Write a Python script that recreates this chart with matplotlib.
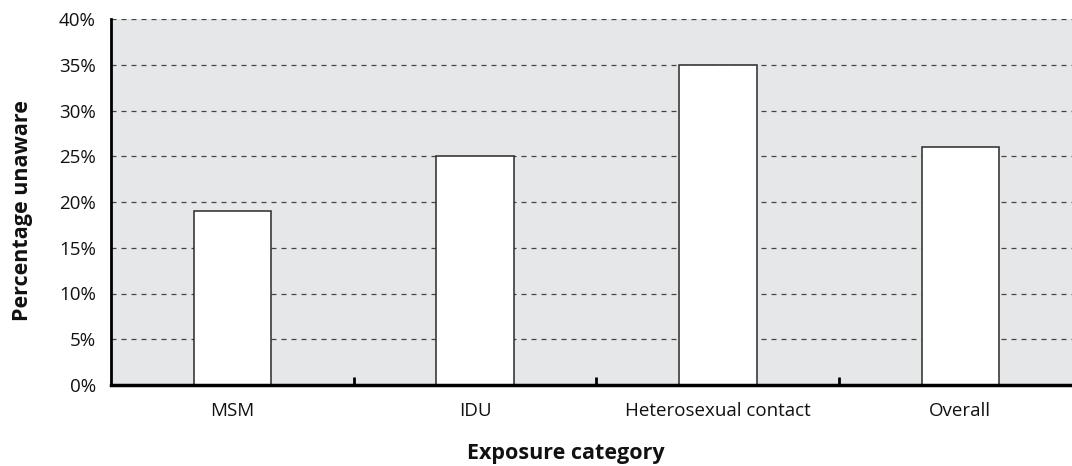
import matplotlib
matplotlib.use("Agg")
import matplotlib.pyplot as plt
from matplotlib.ticker import FixedLocator, PercentFormatter

categories = ["MSM", "IDU", "Heterosexual contact", "Overall"]
percent_unaware = [19, 25, 35, 26]
y_ticks = [0, 5, 10, 15, 20, 25, 30, 35, 40]

plt.rcParams['font.family'] = ['Open Sans', 'DejaVu Sans']

fig = plt.figure(figsize=(10.72, 4.66), dpi=100)
ax = fig.add_axes([111/1072, 1 - 385/466, 1 - 111/1072, (385 - 19)/466])
ax.set_facecolor('#E6E7E9')

x = list(range(len(categories)))
ax.bar(x, percent_unaware, width=0.32, color='white', edgecolor='#2a2a2a', linewidth=1.1, zorder=3)

ax.set_ylim(0, 40)
ax.set_xlim(-0.5, 3.46)
ax.set_yticks(y_ticks)
ax.yaxis.set_major_formatter(PercentFormatter(decimals=0))
ax.yaxis.grid(True, linestyle=(0, (4, 4)), color='#444444', linewidth=0.9, zorder=1)
ax.set_axisbelow(True)

ax.set_xticks(x)
ax.set_xticklabels(categories)
ax.xaxis.set_minor_locator(FixedLocator([0.5, 1.5, 2.5]))
ax.tick_params(axis='x', which='major', length=0, pad=12, labelsize=13.5, labelcolor='#111111')
ax.tick_params(axis='x', which='minor', direction='in', length=6, width=2, color='black')
ax.tick_params(axis='y', length=0, pad=11, labelsize=13.5, labelcolor='#111111')

for s in ['top', 'right']:
    ax.spines[s].set_visible(False)
ax.spines['left'].set_linewidth(2)
ax.spines['bottom'].set_linewidth(2.5)
ax.spines['left'].set_zorder(4)
ax.spines['bottom'].set_zorder(4)

fig.text(23/1072, 1 - 211/466, "Percentage unaware", ha='center', va='center',
         rotation=90, fontsize=15.5, fontweight='bold', color='#111111')
fig.text(566/1072, 1 - 454/466, "Exposure category", ha='center', va='center',
         fontsize=15.5, fontweight='bold', color='#111111')

fig.savefig("out.png", dpi=100)
